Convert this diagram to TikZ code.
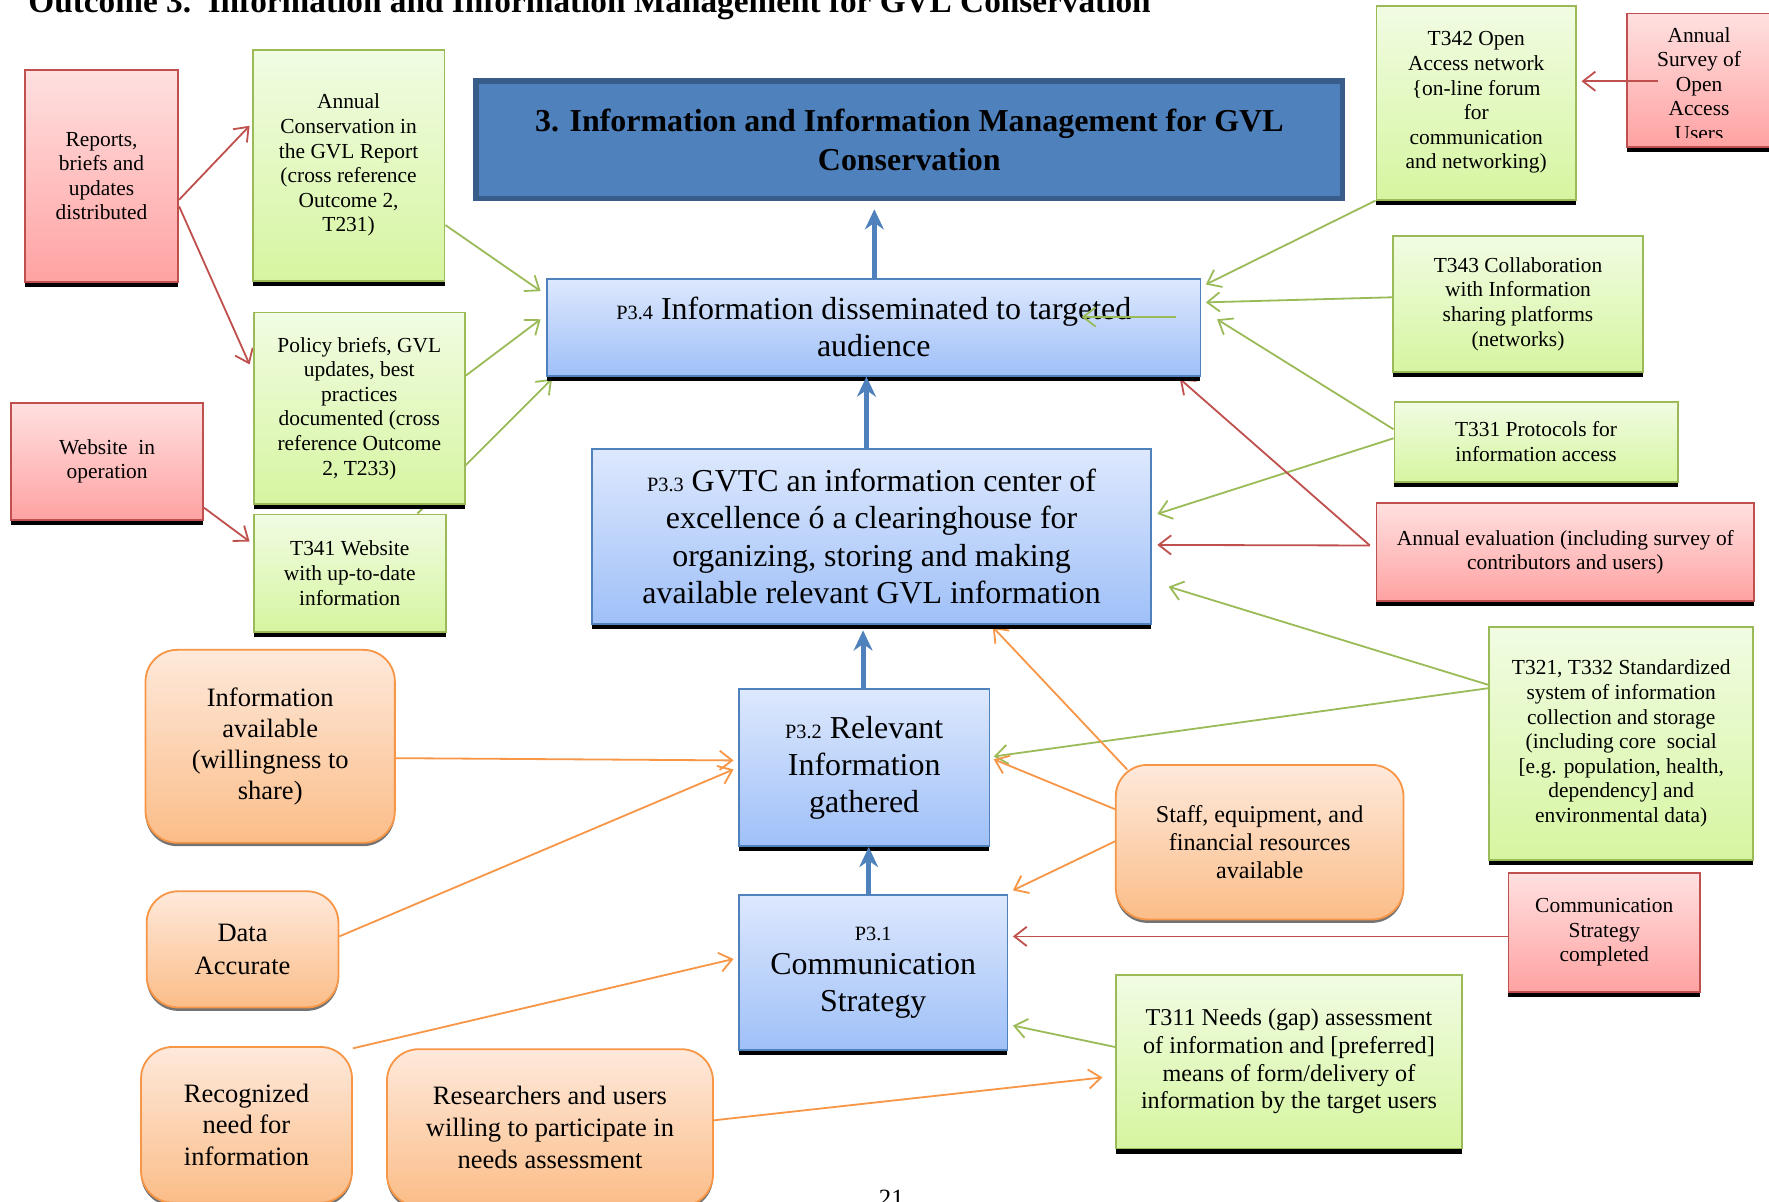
\documentclass[tikz,border=0pt]{standalone}
\usepackage{fontspec}
\setmainfont{Liberation Serif}
\usetikzlibrary{arrows.meta,shadows}
\pgfdeclarelayer{background}
\pgfsetlayers{background,main}
\definecolor{gborder}{HTML}{9BBB59}
\definecolor{gtop}{HTML}{F1FCE3}
\definecolor{gbot}{HTML}{D6F5A0}
\definecolor{rborder}{HTML}{C0504D}
\definecolor{rtop}{HTML}{FFE0E0}
\definecolor{rbot}{HTML}{FFA2A2}
\definecolor{bborder}{HTML}{4F81BD}
\definecolor{btop}{HTML}{DDE8FD}
\definecolor{bbot}{HTML}{9FC0F8}
\definecolor{oborder}{HTML}{F79646}
\definecolor{otop}{HTML}{FEE9DB}
\definecolor{obot}{HTML}{FBBD88}
\definecolor{tfill}{HTML}{4F81BD}
\definecolor{tborder}{HTML}{385D8A}
\newcommand{\fs}[2]{\fontsize{#1}{#2}\selectfont}
\tikzset{
  box/.style={draw, line width=1.6pt, align=center, inner sep=0pt,
    drop shadow={shadow xshift=0pt, shadow yshift=-4.5pt, fill=black, opacity=1}},
  gbox/.style={box, draw=gborder, top color=gtop, bottom color=gbot, font=\fs{19}{21.8}},
  rbox/.style={box, draw=rborder, top color=rtop, bottom color=rbot, font=\fs{19}{21.8}},
  pbox/.style={box, draw=bborder, top color=btop, bottom color=bbot, font=\fs{28.3}{33}},
  obox/.style={draw=oborder, line width=1.6pt, rounded corners=28pt, align=center, inner sep=0pt,
    top color=otop, bottom color=obot,
    drop shadow={shadow xshift=0pt, shadow yshift=-3pt, fill=black!55, opacity=1},
    font=\fs{23.5}{28}},
  con/.style={line width=1.6pt, -{Straight Barb[length=11pt,width=17pt]}},
  garr/.style={con, draw=gborder},
  rarr/.style={con, draw=rborder},
  oarr/.style={con, draw=oborder},
  barr/.style={line width=4.5pt, draw=bborder,
    -{Stealth[length=18pt,width=17pt,inset=6pt,line width=1pt]}},
}
\begin{document}
\begin{tikzpicture}[x=1pt,y=-1pt]
\useasboundingbox (0,0) rectangle (1568,1065);
\begin{pgfonlayer}{background}
\fill[white] (0,0) rectangle (1568,1065);
\end{pgfonlayer}

% header and page number (cut by page edges)
\node[anchor=base west, inner sep=0pt, font=\fs{29.5}{30}\bfseries] (hdr) at (25,11)
  {Outcome 3.\ \ Information and Information Management for GVL Conservation};
\node[anchor=base, inner sep=0pt, font=\fs{22}{24}] (pg) at (790,1069) {21};

% title
\node[draw=tborder, line width=5pt, fill=tfill, minimum width=768pt, minimum height=104pt,
  align=center, inner sep=0pt, font=\fs{28.3}{34}\bfseries] (title) at (806,124)
  {3. Information and Information Management for GVL\\Conservation};

% blue P boxes
\node[pbox, minimum width=579pt, minimum height=86pt] (p34) at (774.5,290)
  {{\fs{18}{33}P3.4} Information disseminated to targeted\\audience};
\node[pbox, minimum width=495pt, minimum height=155pt] (p33) at (772.5,475.5)
  {{\fs{18}{33}P3.3} GVTC an information center of\\excellence ó a clearinghouse for\\organizing, storing and making\\available relevant GVL information};
\node[pbox, minimum width=222pt, minimum height=139pt] (p32) at (766,680.5)
  {{\fs{18}{33}P3.2} Relevant\\Information\\gathered};
\node[pbox, minimum width=238pt, minimum height=138pt] (p31) at (774,862)
  {{\fs{18}{22}P3.1}\\[-3pt]Communication\\Strategy};

% left red / green boxes
\node[rbox, minimum width=136pt, minimum height=188pt] (reports) at (90,156)
  {Reports,\\briefs and\\updates\\distributed};
\node[gbox, minimum width=170pt, minimum height=205pt] (ann) at (309,146.5)
  {Annual\\Conservation in\\the GVL Report\\(cross reference\\Outcome 2,\\T231)};
\node[gbox, minimum width=187pt, minimum height=170pt] (pol) at (318.5,362)
  {Policy briefs, GVL\\updates, best\\practices\\documented (cross\\reference Outcome\\2, T233)};
\node[rbox, minimum width=170pt, minimum height=104pt] (web) at (95,409)
  {Website\ \ in\\operation};
\node[gbox, minimum width=170pt, minimum height=104pt] (t341) at (310,508)
  {T341 Website\\with up-to-date\\information};

% right boxes
\node[gbox, minimum width=177pt, minimum height=172pt] (t342) at (1308.5,91)
  {T342 Open\\Access network\\\{on-line forum\\for\\communication\\and networking)};
\node[rbox, minimum width=128pt, minimum height=118pt] (survey) at (1506,71) {};
\begin{scope}
\clip (survey.north west) rectangle ([yshift=9pt]survey.south east);
\node[font=\fs{19}{21.8}, align=center, inner sep=0pt] (surveytxt) at (1506,74.5)
  {Annual\\Survey of\\Open\\Access\\Users};
\end{scope}
\node[gbox, minimum width=221pt, minimum height=121pt] (t343) at (1345.5,269.5)
  {T343 Collaboration\\with Information\\sharing platforms\\(networks)};
\node[gbox, minimum width=251pt, minimum height=71pt] (t331) at (1361.5,391.5)
  {T331 Protocols for\\information access};
\node[rbox, minimum width=335pt, minimum height=87pt] (ae) at (1387.5,489.5)
  {Annual evaluation (including survey of\\contributors and users)};
\node[gbox, minimum width=234pt, minimum height=206pt] (t321) at (1437,659)
  {T321, T332 Standardized\\system of information\\collection and storage\\(including core\ \ social\\{[e.g. population, health,}\\dependency] and\\environmental data)};
\node[rbox, minimum width=170pt, minimum height=105pt] (cs) at (1422,826.5)
  {Communication\\Strategy\\completed};
\node[gbox, minimum width=307pt, minimum height=154pt, font=\fs{21.4}{24.5}] (t311) at (1142.5,941)
  {T311 Needs (gap) assessment\\of information and [preferred]\\means of form/delivery of\\information by the target users};

% orange boxes
\node[obox, minimum width=221pt, minimum height=171pt, font=\fs{23.5}{27.5}] (info) at (239.5,661.5)
  {Information\\available\\(willingness to\\share)};
\node[obox, minimum width=170pt, minimum height=103pt, font=\fs{23.5}{29}] (data) at (215,841.5)
  {Data\\Accurate};
\node[obox, minimum width=187pt, minimum height=138pt] (rec) at (218.5,997)
  {Recognized\\need for\\information};
\node[obox, minimum width=289pt, minimum height=139pt, font=\fs{23.5}{28.5}] (res) at (487.5,999.5)
  {Researchers and users\\willing to participate in\\needs assessment};
\node[obox, minimum width=255pt, minimum height=137pt, font=\fs{21.4}{24.5}] (staff) at (1116.5,746.5)
  {Staff, equipment, and\\financial resources\\available};

% connectors (behind boxes)
\begin{pgfonlayer}{background}
\draw[rarr] ([yshift=-21pt]reports.east) -- ([xshift=-2pt,yshift=35pt]ann.west);
\draw[rarr] ([yshift=-27pt]reports.east) -- ([xshift=-3pt,yshift=39pt]pol.west);
\draw[rarr] ([yshift=-41pt]web.east) -- ([xshift=-3pt,yshift=28pt]t341.west);
\draw[garr] ([yshift=-53pt]ann.east) -- ([xshift=-5pt,yshift=32pt]p34.west);
\draw[garr] ([yshift=29pt]pol.east) -- ([xshift=-5pt,yshift=7pt]p34.west);
\draw[garr] ([xshift=60pt]t341.north) -- ([xshift=5pt,yshift=-2pt]p34.south west);
\draw[garr] (t342.south west) -- ([xshift=4pt,yshift=-6pt]p34.north east);
\draw[garr] ([yshift=6pt]t343.west) -- ([xshift=4pt,yshift=22pt]p34.east);
\draw[garr] ([yshift=11pt]t331.west) -- ([xshift=14pt,yshift=7pt]p34.east);
\draw[garr] ([yshift=3pt]t331.west) -- ([xshift=5pt,yshift=20pt]p33.east);
\draw[rarr] ([xshift=-5pt,yshift=6pt]ae.west) -- ([xshift=-19pt,yshift=-2pt]p34.south east);
\draw[rarr] ([xshift=-5pt,yshift=6pt]ae.west) -- ([xshift=5pt,yshift=-7.5pt]p33.east);
\draw[garr] ([yshift=52pt]t321.west) -- ([xshift=15pt,yshift=-44.5pt]p33.east);
\draw[garr] ([yshift=49pt]t321.west) -- ([xshift=3pt,yshift=10pt]p32.east);
\draw[oarr] ([xshift=11pt,yshift=-5pt]staff.north west) -- ([xshift=107.5pt,yshift=-2pt]p33.south);
\draw[oarr] ([xshift=8pt,yshift=26pt]staff.west) -- ([xshift=3pt,yshift=7.5pt]p32.east);
\draw[oarr] ([xshift=11pt,yshift=6pt]staff.west) -- ([xshift=4pt,yshift=3pt]p31.north east);
\draw[rarr] ([yshift=-3.5pt]cs.west) -- ([xshift=4pt,yshift=32pt]p31.east);
\draw[garr] ([yshift=13pt]t311.west) -- ([xshift=4pt,yshift=-47pt]p31.east);
\draw[oarr] ([yshift=-10.5pt]info.east) -- ([xshift=-4pt,yshift=6.5pt]p32.west);
\draw[oarr] ([yshift=11.5pt]data.east) -- ([xshift=-4pt,yshift=-1.5pt]p32.west);
\draw[oarr] ([yshift=-2pt]rec.north east) -- ([xshift=-4pt,yshift=12pt]p31.west);
\draw[oarr] ([yshift=6.5pt]res.east) -- ([xshift=-11pt,yshift=-14pt]t311.west);
\end{pgfonlayer}

% connectors on top
\draw[rarr] ([xshift=28pt,yshift=-1pt]survey.west) -- ([xshift=4pt,yshift=19pt]t342.east);
\coordinate (strayS) at ([xshift=-22pt,yshift=9pt]p34.east);
\coordinate (strayE) at ([xshift=-106pt,yshift=9pt]p34.east);
\draw[garr] (strayS) -- (strayE);

% blue flow arrows
\draw[barr] ([xshift=0.5pt]p34.north) -- ([xshift=-31pt,yshift=-7pt]title.south);
\draw[barr] ([xshift=-4.5pt]p33.north) -- ([xshift=-6.5pt]p34.south);
\draw[barr] ([xshift=-1pt]p32.north) -- ([xshift=-7.5pt,yshift=-5pt]p33.south);
\draw[barr] ([xshift=-4pt]p31.north) -- ([xshift=4pt]p32.south);
\end{tikzpicture}
\end{document}
